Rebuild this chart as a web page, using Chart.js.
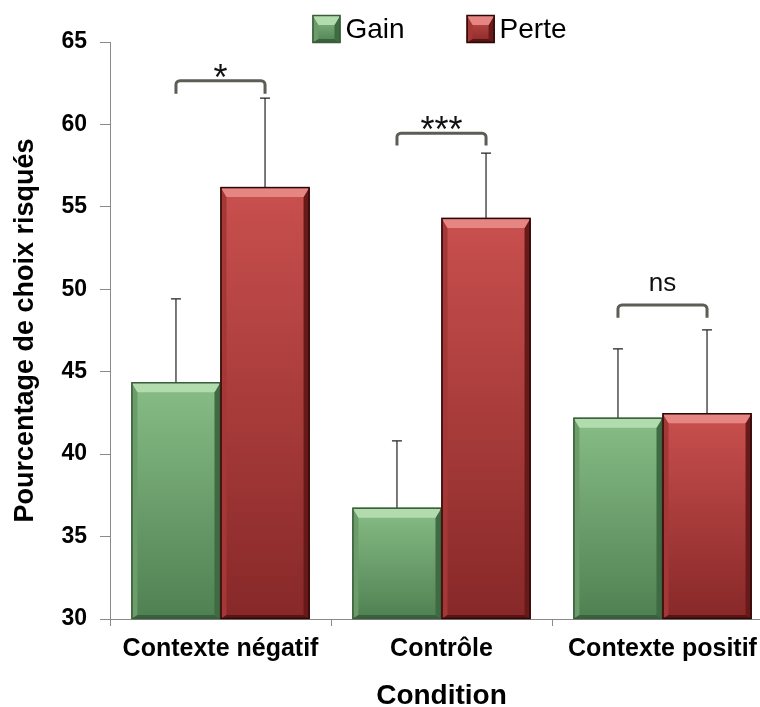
<!DOCTYPE html>
<html><head><meta charset="utf-8">
<script src="https://cdn.jsdelivr.net/npm/chart.js@4.4.1/dist/chart.umd.min.js"></script>
<style>html,body{margin:0;padding:0;background:#fff;overflow:hidden;}#wrap{width:780px;height:713px;position:relative;}</style>
</head><body><div id="wrap"><canvas id="c"></canvas></div>
<script>
const categories = ['Contexte négatif', 'Contrôle', 'Contexte positif'];
const seriesNames = ['Gain', 'Perte'];
const gainValues = [44.36, 36.75, 42.21];
const perteValues = [56.2, 54.33, 42.48];
const gainErrorTop = [49.42, 40.8, 46.38];
const perteErrorTop = [61.6, 58.26, 47.54];
const yTickValues = [30, 35, 40, 45, 50, 55, 60, 65];
const sigLabels = ['*', '***', 'ns'];
const sigBracketTop = [62.65, 59.47, 49.05];
const sigBracketEnd = [61.86, 58.72, 48.27];

const FONT = "'Liberation Sans', Arial, sans-serif";
const palettes = [
  {face1:'#88bd86', face2:'#4f8052', top:'#b2dcad', left:'#6c9c6a', right:'#3f6b42', bottom:'#3b6040', border:'#3a5c3b'},
  {face1:'#c9504e', face2:'#872828', top:'#e68682', left:'#a33836', right:'#681919', bottom:'#5a1414', border:'#2a0808'}
];
const errorTops = [gainErrorTop, perteErrorTop];

function bevelRect(ctx, x, y, w, h, pal) {
  if (h <= 0) return;
  const bt = Math.min(10, h / 2), bs = Math.min(6, w / 4), bb = Math.min(4, h / 4);
  const g = ctx.createLinearGradient(0, y, 0, y + h);
  g.addColorStop(0, pal.face1); g.addColorStop(1, pal.face2);
  ctx.save();
  ctx.fillStyle = g; ctx.fillRect(x, y, w, h);
  const poly = (pts, col) => { ctx.beginPath(); ctx.moveTo(pts[0][0], pts[0][1]); for (let k = 1; k < pts.length; k++) ctx.lineTo(pts[k][0], pts[k][1]); ctx.closePath(); ctx.fillStyle = col; ctx.fill(); };
  poly([[x, y], [x + bs, y + bt], [x + bs, y + h - bb], [x, y + h]], pal.left);
  poly([[x + w, y], [x + w - bs, y + bt], [x + w - bs, y + h - bb], [x + w, y + h]], pal.right);
  poly([[x, y + h], [x + bs, y + h - bb], [x + w - bs, y + h - bb], [x + w, y + h]], pal.bottom);
  poly([[x, y], [x + w, y], [x + w - bs, y + bt], [x + bs, y + bt]], pal.top);
  ctx.strokeStyle = pal.border; ctx.lineWidth = 1.5;
  ctx.strokeRect(x + 0.5, y + 0.5, w - 1, h - 1);
  ctx.restore();
}

const decor = {
  id: 'decor',
  afterDatasetsDraw(chart) {
    const ctx = chart.ctx, ys = chart.scales.y, area = chart.chartArea;
    const centers = [];
    chart.data.datasets.forEach((ds, di) => {
      const meta = chart.getDatasetMeta(di);
      centers[di] = [];
      meta.data.forEach((bar, i) => {
        const p = bar.getProps(['x', 'y', 'base', 'width'], true);
        centers[di][i] = p.x;
        const base = Math.min(p.base, area.bottom);
        bevelRect(ctx, p.x - p.width / 2, p.y, p.width, base - p.y, palettes[di]);
      });
    });
    // error bars
    ctx.save();
    ctx.strokeStyle = '#222'; ctx.lineWidth = 1.2;
    chart.data.datasets.forEach((ds, di) => {
      const meta = chart.getDatasetMeta(di);
      meta.data.forEach((bar, i) => {
        const p = bar.getProps(['x', 'y'], true);
        const ye = ys.getPixelForValue(errorTops[di][i]);
        ctx.beginPath();
        ctx.moveTo(p.x, p.y); ctx.lineTo(p.x, ye);
        ctx.moveTo(p.x - 5, ye); ctx.lineTo(p.x + 5, ye);
        ctx.stroke();
      });
    });
    ctx.restore();
    // significance brackets
    ctx.save();
    ctx.strokeStyle = '#5a5e54'; ctx.lineWidth = 3; ctx.lineJoin = 'round'; ctx.lineCap = 'butt';
    sigLabels.forEach((lab, i) => {
      const x1 = centers[0][i], x2 = centers[1][i];
      const yt = ys.getPixelForValue(sigBracketTop[i]);
      const ye = ys.getPixelForValue(sigBracketEnd[i]);
      ctx.beginPath();
      ctx.moveTo(x1, ye);
      ctx.arcTo(x1, yt, x2, yt, 4);
      ctx.arcTo(x2, yt, x2, ye, 4);
      ctx.lineTo(x2, ye);
      ctx.stroke();
      ctx.fillStyle = '#111'; ctx.textAlign = 'center'; ctx.textBaseline = 'alphabetic';
      if (lab.indexOf('*') >= 0) {
        ctx.font = '36px ' + FONT;
        ctx.fillText(lab, (x1 + x2) / 2, yt + 9);
      } else {
        ctx.font = '26px ' + FONT;
        ctx.fillText(lab, (x1 + x2) / 2, yt - 14);
      }
    });
    ctx.restore();
    // legend
    ctx.save();
    ctx.font = '28px ' + FONT;
    const box = 28, gapT = 5, gapI = 62;
    const widths = seriesNames.map(n => box + gapT + ctx.measureText(n).width);
    const total = widths.reduce((a, b) => a + b, 0) + gapI * (seriesNames.length - 1);
    let lx = (area.left + area.right) / 2 - total / 2 - 2;
    const ly = 15;
    seriesNames.forEach((n, di) => {
      bevelRect(ctx, lx, ly, box, box, palettes[di]);
      ctx.fillStyle = '#000'; ctx.textAlign = 'left'; ctx.textBaseline = 'middle';
      ctx.fillText(n, lx + box + gapT, ly + box / 2 + 1);
      lx += widths[di] + gapI;
    });
    ctx.restore();
  }
};

new Chart(document.getElementById('c'), {
  type: 'bar',
  data: {
    labels: categories,
    datasets: [
      {label: seriesNames[0], data: gainValues, backgroundColor: '#6fa56f', borderWidth: 0},
      {label: seriesNames[1], data: perteValues, backgroundColor: '#b03c3c', borderWidth: 0}
    ]
  },
  options: {
    responsive: true, maintainAspectRatio: false, animation: false,
    devicePixelRatio: 1,
    layout: {padding: {top: 42, right: 7, left: 0, bottom: 0}},
    plugins: {legend: {display: false}, tooltip: {enabled: false}},
    datasets: {bar: {categoryPercentage: 0.806, barPercentage: 1.0}},
    scales: {
      x: {
        offset: true,
        grid: {display: true, drawOnChartArea: false, drawTicks: true, tickLength: 7, color: '#8a8a8a', offset: true},
        border: {display: true, color: '#8a8a8a', width: 1},
        ticks: {color: '#000', font: {family: FONT, size: 25, weight: 'bold'}, padding: 8, maxRotation: 0, autoSkip: false},
        title: {display: true, text: 'Condition', color: '#000', font: {family: FONT, size: 28, weight: 'bold'}, padding: {top: 0, bottom: 0}},
        afterFit(s) { s.height = 94; }
      },
      y: {
        min: 30, max: 65,
        afterBuildTicks(s) { s.ticks = yTickValues.map(v => ({value: v})); },
        grid: {display: true, drawOnChartArea: false, drawTicks: true, tickLength: 10, color: '#8a8a8a'},
        border: {display: true, color: '#8a8a8a', width: 1},
        ticks: {color: '#000', font: {family: FONT, size: 23, weight: 'bold'}, padding: 13},
        title: {display: true, text: 'Pourcentage de choix risqués', color: '#000', font: {family: FONT, size: 27, weight: 'bold'}, padding: {top: 9, bottom: 0}},
        afterFit(s) { s.width = 110; }
      }
    }
  },
  plugins: [decor]
});
</script></body></html>
